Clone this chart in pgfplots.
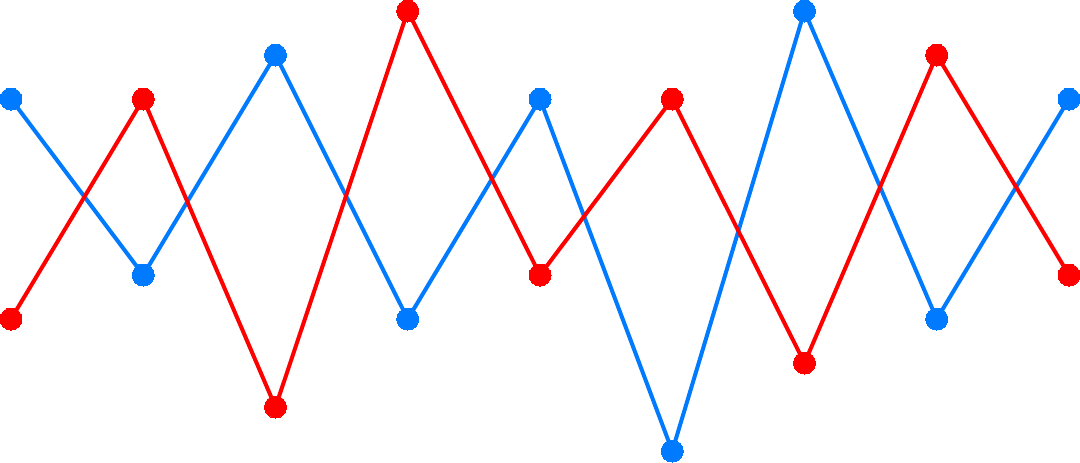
\documentclass[border=0pt]{standalone}
\usepackage{pgfplots}
\pgfplotsset{compat=1.18}
\definecolor{cblue}{RGB}{0,122,255}
\definecolor{cred}{RGB}{255,0,0}

\begin{document}
\begin{tikzpicture}
	\begin{axis}[hide axis,
			scale only axis,
			width=529pt, height=220pt,
			xmin=0, xmax=8, ymin=0, ymax=10,
			enlargelimits=false,
			clip=false]
		\addplot [cblue, line width=2pt, mark=*, mark size=5.5pt, mark options={line width=0pt, fill=cblue}]
			coordinates {(0,8)(1,4)(2,9)(3,3)(4,8)(5,0)(6,10)(7,3)(8,8)};
		\addplot [cred, line width=2pt, mark=*, mark size=5.5pt, mark options={line width=0pt, fill=cred}]
			coordinates {(0,3)(1,8)(2,1)(3,10)(4,4)(5,8)(6,2)(7,9)(8,4)};
	\end{axis}
\end{tikzpicture}
\end{document}
